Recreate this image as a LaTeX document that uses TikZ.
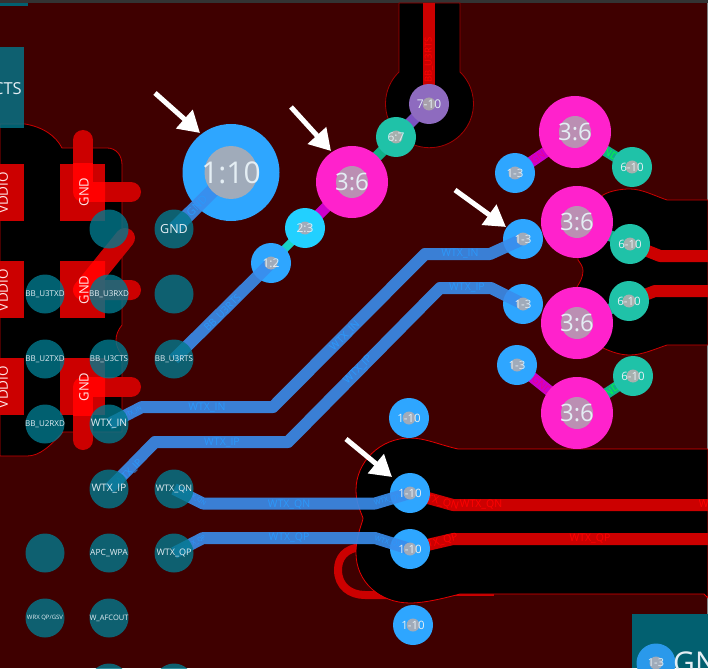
\documentclass[tikz,border=0pt]{standalone}
\usepackage{fontspec}
\setmainfont{Open Sans}
\usetikzlibrary{arrows.meta}
\definecolor{bgc}{HTML}{3F0000}
\definecolor{redc}{HTML}{CC0000}
\definecolor{redb}{HTML}{FF0000}
\definecolor{padc}{RGB}{2,120,140}
\definecolor{trc}{RGB}{58,141,237}
\definecolor{trtxt}{HTML}{2C98FA}
\definecolor{viab}{HTML}{2EA6FF}
\definecolor{viam}{HTML}{FF22CC}
\definecolor{viat}{HTML}{1FC2A8}
\definecolor{viap}{HTML}{8E6BBF}
\definecolor{viac}{HTML}{22D0FF}
\definecolor{holeb}{HTML}{A0ABBA}
\definecolor{holem}{HTML}{BB8FB3}
\definecolor{holet}{HTML}{A6B0AE}
\definecolor{holep}{HTML}{A8A0AC}
\definecolor{conm}{HTML}{CC00CC}
\definecolor{cong}{HTML}{10B088}
\definecolor{conp}{HTML}{7B52C0}
\definecolor{conc}{HTML}{18D4C4}
\definecolor{txtc}{HTML}{E4EEF4}
\newcommand{\fs}[1]{\fontsize{#1}{#1}\selectfont}
\tikzset{
 bgfill/.style={fill=bgc},
 outl/.style={draw=redc,line width=.8pt,fill=black},
 redpad/.style={fill=redc},
 redtr/.style={draw=redc,line width=20pt,line cap=round,line join=round},
 redtrb/.style={draw=redb,line width=20pt,line cap=round,line join=round},
 sigred/.style={draw=redc,line width=12pt,line join=round},
 bluetr/.style={draw=trc,opacity=.9,line width=12pt,line join=round},
 con/.style={line width=11pt},
 via/.style n args={2}{circle,inner sep=0pt,minimum size=#2,fill=#1},
 hole/.style n args={4}{circle,inner sep=0pt,minimum size=#2,fill=#1,
   label={[txtc,inner sep=0pt,font=\fs{#3}]center:{#4}}},
 smallhole/.style n args={3}{hole={#1}{13pt}{#2}{#3}},
 pad/.style n args={2}{circle,inner sep=0pt,minimum size=39pt,fill=padc,fill opacity=.8,
   label={[txtc,inner sep=0pt,font=\fs{#1}]center:{#2}}},
 padlab/.style={white!90!red,inner sep=0pt,rotate=90},
 trlab/.style={text=trtxt,inner sep=0pt,font=\fs{10.5}},
 redlab/.style={text=redb,inner sep=0pt,font=\fs{10.5}},
 conlabm/.style={text=magenta,inner sep=0pt,font=\fs{10}},
 conlabg/.style={text=green!75!cyan,inner sep=0pt,font=\fs{10}},
 pointer/.style={draw=white,line width=5pt,-{Triangle[length=21pt,width=24pt]}}
}
\begin{document}
\begin{tikzpicture}[x=1pt,y=-1pt]
\useasboundingbox (0,0) rectangle (708,668);
\clip (0,0) rectangle (708,668);
\fill[bgfill] (0,0) rectangle (708,668);
\fill[fill=black!80!white] (0,0) rectangle (708,3);
\fill[padc!80!black] (0,3) rectangle (28,6);
\draw[gray,line width=1pt] (707.5,3) -- (707.5,668);
% loop of red trace, passing under the copper-free areas
\draw[redc,line width=8pt] (362,547) .. controls (345,548) and (338,558) .. (338,570)
  .. controls (338,586) and (350,595) .. (365,595) -- (392,595);
\draw[redc,line width=6pt] (455,593) -- (494,593);
% black areas
\path[outl] (0,124) -- (25,124) .. controls (43,127) and (56,136) .. (62,148) -- (107,148)
  .. controls (116,148) and (122,155) .. (122,165) -- (122,325)
  .. controls (118,330) and (116,335) .. (116,340) .. controls (116,345) and (118,350) .. (122,355)
  -- (122,432) -- (63,432) .. controls (50,446) and (40,456) .. (27,456) -- (0,456) -- cycle;
\path[draw=redc!80!black,line width=.8pt,fill=black] (399,3) -- (399,72)
  arc[start angle=226.1,end angle=-46.1,radius=44] -- (460,3) -- cycle;
\path[outl] (708,200) -- (667,200) .. controls (655,196) and (642,189) .. (630,189)
  .. controls (620,189) and (610,191) .. (603,195) -- (577,240) -- (578,260)
  .. controls (581,264) and (583,267) .. (583,271) .. controls (583,277) and (580,282) .. (577,287)
  -- (603,348) .. controls (612,352) and (620,355) .. (630,355)
  .. controls (642,355) and (655,349) .. (667,345) -- (708,345) -- cycle;
\path[draw=redb!90!black,line width=.8pt,fill=black] (708,449) -- (458,449)
  .. controls (440,445) and (425,438) .. (410,438)
  .. controls (380,438) and (356,462) .. (356,490)
  .. controls (356,502) and (360,510) .. (363,518) .. controls (363,522) and (356,535) .. (356,553)
  .. controls (356,582) and (380,603) .. (410,603)
  .. controls (425,603) and (445,598) .. (460,594) -- (704,594) -- (708,598) -- cycle;
% red component pads
\fill[redpad] (0,164) rectangle (24,221);
\fill[redpad] (0,261) rectangle (24,318);
\fill[redpad] (0,358) rectangle (24,415);
\fill[redpad] (60,164) rectangle (105,221);
\fill[redpad] (60,261) rectangle (105,318);
\fill[redpad] (60,358) rectangle (105,415);
% GND stubs
\draw[redtr] (83,140) -- (83,192) -- (131,192);
\draw[redtr] (125,238) -- (83,290) -- (131,290);
\draw[redtr] (83,440) -- (83,387) -- (131,387);
\begin{scope}\clip (60,164) rectangle (105,221);\draw[redtrb] (83,140) -- (83,192) -- (131,192);\end{scope}
\begin{scope}\clip (60,261) rectangle (105,318);\draw[redtrb] (125,238) -- (83,290) -- (131,290);\end{scope}
\begin{scope}\clip (60,358) rectangle (105,415);\draw[redtrb] (83,440) -- (83,387) -- (131,387);\end{scope}
\node[padlab,font=\fs{13.5}] (vd1) at (3,193) {VDDIO};
\node[padlab,font=\fs{13.5}] (vd2) at (3,290) {VDDIO};
\node[padlab,font=\fs{13.5}] (vd3) at (3,387) {VDDIO};
\node[padlab,font=\fs{13}] (g1) at (84,192) {GND};
\node[padlab,font=\fs{13}] (g2) at (84,290) {GND};
\node[padlab,font=\fs{13}] (g3) at (84,387) {GND};
% via centres
\coordinate (topend) at (429,3);
\coordinate (e1a) at (708,256);
\coordinate (e2a) at (708,291);
\coordinate (e3a) at (708,505);
\coordinate (e4a) at (708,539);
\coordinate (vb) at (231,172.5);
\coordinate (vm0) at (352,182);
\coordinate (v710) at (429,104);
\coordinate (v67) at (396,137);
\coordinate (v23) at (305,228);
\coordinate (v12) at (271,263);
\coordinate (vm1) at (575,132);
\coordinate (vm2) at (577,222);
\coordinate (vm3) at (577,323);
\coordinate (vm4) at (577,413);
\coordinate (vt1) at (632,167);
\coordinate (vt2) at (630,244);
\coordinate (vt3) at (629,301);
\coordinate (vt4) at (633,376);
\coordinate (vl1) at (515,173);
\coordinate (vl2) at (523,239);
\coordinate (vl3) at (523,304);
\coordinate (vl4) at (517,365);
\coordinate (vd0) at (409,418);
\coordinate (vd5) at (410,493);
\coordinate (vd6) at (410,549);
\coordinate (vd7) at (413,625);
% red signal traces
\draw[sigred] (topend) -- (v710);
\draw[sigred] (vt2) -- (660,256) -- (e1a);
\draw[sigred] (vt3) -- (655,291) -- (e2a);
\draw[sigred] (vd5) -- (453,505) -- (e3a);
\draw[sigred] (vd6) -- (453,539) -- (e4a);
\node[redlab,rotate=90,font=\fs{9.5}] (rl0) at (429,60) {BB\_U3RTS};
\node[redlab,rotate=-15] (rl1) at (438,501.5) {WTX\_QN};
\node[redlab] (rl2) at (481,505) {WTX\_QN};
\node[redlab] (rl3) at (720,505) {WTX\_QN};
\node[redlab,rotate=15] (rl4) at (438,542) {WTX\_QP};
\node[redlab] (rl5) at (590,539) {WTX\_QP};
% layer-change stubs
\draw[conc,line width=8pt] (v12) -- (v23);
\draw[conm,con] (v23) -- (vm0);
\draw[cong,con] (vm0) -- (v67);
\draw[conp,con] (v67) -- (v710);
\draw[conm,con] (vl1) -- (vm1);
\draw[cong,con] (vm1) -- (vt1);
\draw[cong,con] (vm2) -- (vt2);
\draw[cong,con] (vm3) -- (vt3);
\draw[conm,con] (vl4) -- (vm4);
\draw[cong,con] (vm4) -- (vt4);
\node[conlabm,rotate=34] (ml1) at (541,155) {GND};
\node[conlabm,rotate=-39] (ml2) at (542,385) {GND};
\node[conlabg,rotate=-31] (gl1) at (608,152) {GND};
\node[conlabg,rotate=33] (gl2) at (609,392) {GND};
% via discs
\node[via={viab}{97pt}] (d-vb) at (vb) {};
\node[via={viam}{72pt}] (d-vm0) at (vm0) {};
\node[via={viap}{40pt}] (d-v710) at (v710) {};
\node[via={viat}{40pt}] (d-v67) at (v67) {};
\node[via={viac}{40pt}] (d-v23) at (v23) {};
\node[via={viab}{40pt}] (d-v12) at (v12) {};
\node[via={viam}{72pt}] (d-vm1) at (vm1) {};
\node[via={viam}{72pt}] (d-vm2) at (vm2) {};
\node[via={viam}{72pt}] (d-vm3) at (vm3) {};
\node[via={viam}{72pt}] (d-vm4) at (vm4) {};
\node[via={viat}{40pt}] (d-vt1) at (vt1) {};
\node[via={viat}{40pt}] (d-vt2) at (vt2) {};
\node[via={viat}{40pt}] (d-vt3) at (vt3) {};
\node[via={viat}{40pt}] (d-vt4) at (vt4) {};
\node[via={viab}{40pt}] (d-vl1) at (vl1) {};
\node[via={viab}{40pt}] (d-vl2) at (vl2) {};
\node[via={viab}{40pt}] (d-vl3) at (vl3) {};
\node[via={viab}{40pt}] (d-vl4) at (vl4) {};
\node[via={viab}{40pt}] (d-vd0) at (vd0) {};
\node[via={viab}{40pt}] (d-vd5) at (vd5) {};
\node[via={viab}{40pt}] (d-vd6) at (vd6) {};
\node[via={viab}{40pt}] (d-vd7) at (vd7) {};
% pad coordinates
\coordinate (pGND) at (174,229);
\coordinate (pRTS) at (174,359);
\coordinate (pIN) at (109,424);
\coordinate (pIP) at (109,489);
\coordinate (pQN) at (174,489);
\coordinate (pQP) at (174,553);
% blue traces
\draw[bluetr,line width=14pt] (pGND) -- (vb);
\draw[bluetr] (pRTS) -- (v12);
\draw[bluetr] (pIN) -- (142,407) -- (273,407) -- (425,254) -- (490,254) -- (vl2);
\draw[bluetr] (pIP) -- (155,442) -- (288,442) -- (440,288) -- (491,288) -- (vl3);
\draw[bluetr] (pQN) -- (203,503.5) -- (375,503.5) -- (vd5);
\draw[bluetr] (pQP) -- (203,538) -- (375,538) -- (vd6);
\node[trlab,rotate=45,font=\fs{11}] (bl0) at (197,206) {GND};
\node[trlab,rotate=45,font=\fs{10}] (bl1) at (223,313) {BB\_U3RTS};
\node[trlab] (bl2) at (207,408) {WTX\_IN};
\node[trlab,rotate=45] (bl3) at (345,336) {WTX\_IN};
\node[trlab] (bl4) at (460,254) {WTX\_IN};
\node[trlab] (bl5) at (222,443) {WTX\_IP};
\node[trlab,rotate=45] (bl6) at (358,370) {WTX\_IP};
\node[trlab] (bl7) at (467,288) {WTX\_IP};
\node[trlab] (bl8) at (289,505) {WTX\_QN};
\node[trlab] (bl9) at (289,538) {WTX\_QP};
\node[trlab,rotate=45,font=\fs{10}] (bl10) at (129,473) {WTX\_IP};
\node[trlab,rotate=27,font=\fs{6}] (bl11) at (132,413) {WTX\_IN};
\node[trlab,rotate=-30,font=\fs{6}] (bl12) at (195,498) {WTX\_QN};
\node[trlab,rotate=30,font=\fs{6}] (bl13) at (195,543) {WTX\_QP};
\node[trlab,rotate=15,font=\fs{7}] (bl14) at (388,500) {WTX\_QN};
\node[trlab,rotate=-15,font=\fs{7}] (bl15) at (388,542) {WTX\_QP};
% teal pads
\fill[padc,opacity=.8] (0,47) rectangle (24,128);
\node[anchor=east,txtc,inner sep=0pt,font=\fs{16.5}] (cts) at (22,89) {CTS};
\node[pad={12}{}] (p1) at (109,229) {};
\node[pad={12.5}{GND}] (p2) at (174,229) {};
\node[pad={8}{BB\_U3TXD}] (p3) at (45,294) {};
\node[pad={8}{BB\_U3RXD}] (p4) at (109,294) {};
\node[pad={8}{}] (p5) at (174,294) {};
\node[pad={8}{BB\_U2TXD}] (p6) at (45,359) {};
\node[pad={8}{BB\_U3CTS}] (p7) at (109,359) {};
\node[pad={8}{BB\_U3RTS}] (p8) at (174,359) {};
\node[pad={8}{BB\_U2RXD}] (p9) at (45,424) {};
\node[pad={10.3}{WTX\_IN}] (p10) at (109,424) {};
\node[pad={10.3}{WTX\_IP}] (p11) at (109,489) {};
\node[pad={9}{WTX\_QN}] (p12) at (174,489) {};
\node[pad={8}{}] (p13) at (45,553) {};
\node[pad={8.5}{APC\_WPA}] (p14) at (109,553) {};
\node[pad={9}{WTX\_QP}] (p15) at (174,553) {};
\node[pad={6}{WRX QP/GSV}] (p16) at (45,618) {};
\node[pad={7.5}{W\_AFCOUT}] (p17) at (109,618) {};
\node[pad={8}{}] (p18) at (109,683) {};
\node[pad={8}{}] (p19) at (174,683) {};
% holes and via labels
\node[hole={holeb}{53pt}{30}{1:10}] (h-vb) at (vb) {};
\node[hole={holem}{32pt}{24}{3:6}] (h-vm0) at (vm0) {};
\node[hole={holem}{32pt}{24}{3:6}] (h-vm1) at (vm1) {};
\node[hole={holem}{32pt}{24}{3:6}] (h-vm2) at (vm2) {};
\node[hole={holem}{32pt}{24}{3:6}] (h-vm3) at (vm3) {};
\node[hole={holem}{32pt}{24}{3:6}] (h-vm4) at (vm4) {};
\node[smallhole={holep}{12}{7-10}] (h-v710) at (v710) {};
\node[smallhole={holet}{12}{6:7}] (h-v67) at (v67) {};
\node[smallhole={holeb}{12}{2:3}] (h-v23) at (v23) {};
\node[smallhole={holeb}{12}{1:2}] (h-v12) at (v12) {};
\node[smallhole={holet}{11.5}{6-10}] (h-vt1) at (vt1) {};
\node[smallhole={holet}{11.5}{6-10}] (h-vt2) at (vt2) {};
\node[smallhole={holet}{11.5}{6-10}] (h-vt3) at (vt3) {};
\node[smallhole={holet}{11.5}{6-10}] (h-vt4) at (vt4) {};
\node[smallhole={holeb}{11.5}{1-3}] (h-vl1) at (vl1) {};
\node[smallhole={holeb}{11.5}{1-3}] (h-vl2) at (vl2) {};
\node[smallhole={holeb}{11.5}{1-3}] (h-vl3) at (vl3) {};
\node[smallhole={holeb}{11.5}{1-3}] (h-vl4) at (vl4) {};
\node[smallhole={holeb}{11.5}{1-10}] (h-vd0) at (vd0) {};
\node[smallhole={holeb}{11.5}{1-10}] (h-vd5) at (vd5) {};
\node[smallhole={holeb}{11.5}{1-10}] (h-vd6) at (vd6) {};
\node[smallhole={holeb}{11.5}{1-10}] (h-vd7) at (vd7) {};
% bottom-right part
\fill[padc!80!black] (632,614) rectangle (708,668);
\node[via={viab!92!black}{39pt}] (d-br) at (656,663) {};
\node[smallhole={holeb}{11}{1-3}] (h-br) at (d-br) {};
\node[anchor=base west,txtc,inner sep=0pt,font=\fs{30}] (gn) at (673,673) {GN};
% white pointers
\coordinate (a1s) at (155,93);  \coordinate (a1e) at (200,133);
\coordinate (a2s) at (291,107); \coordinate (a2e) at (331,151);
\coordinate (a3s) at (455,190); \coordinate (a3e) at (506,227);
\coordinate (a4s) at (346,439); \coordinate (a4e) at (392,477);
\draw[pointer] (a1s) -- (a1e);
\draw[pointer] (a2s) -- (a2e);
\draw[pointer] (a3s) -- (a3e);
\draw[pointer] (a4s) -- (a4e);
\end{tikzpicture}
\end{document}
